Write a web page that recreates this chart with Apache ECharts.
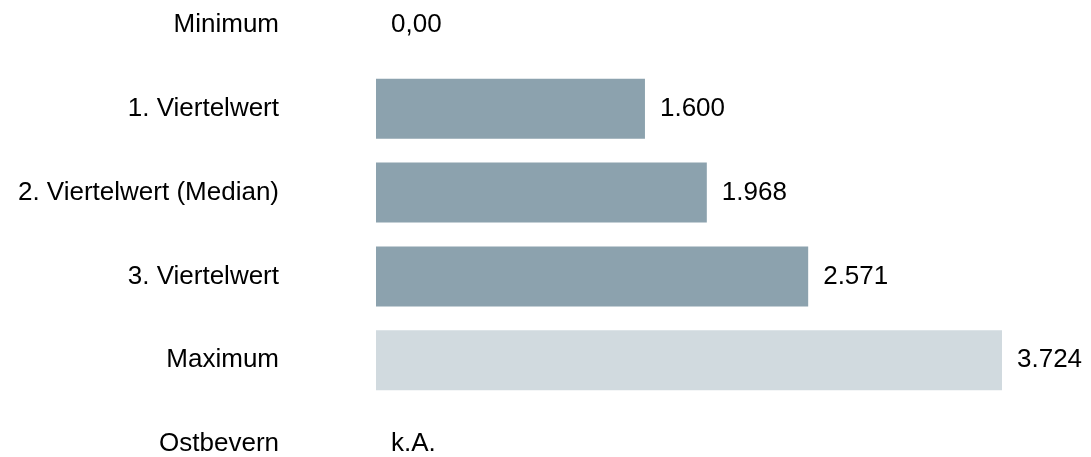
<!DOCTYPE html>
<html>
<head>
<meta charset="utf-8">
<script src="https://cdn.jsdelivr.net/npm/echarts@6/dist/echarts.min.js"></script>
<style>
  html, body { margin: 0; padding: 0; background: #fff; overflow: hidden; width: 1091px; height: 457px; position: relative; }
  /* the plot runs slightly past the top and bottom edge of the page */
  #chart { position: absolute; left: 0; top: -17px; width: 1091px; height: 503px; }
</style>
</head>
<body>
<div id="chart"></div>
<script>
// Kennwerte der Verteilung (Euro); null = keine Angabe
const categories = ['Minimum', '1. Viertelwert', '2. Viertelwert (Median)', '3. Viertelwert', 'Maximum', 'Ostbevern'];
const values = [0, 1600, 1968, 2571, 3724, null];
const highlight = ['Maximum'];

const barColor = '#8ca2ae';
const maxColor = '#d1dadf';
const font = 'Liberation Sans, Arial, sans-serif';

function fmt(v) {
  if (v === 0) return '0,00';
  return v.toLocaleString('de-DE', { maximumFractionDigits: 0 });
}

const seriesData = categories.map((c, i) => {
  const v = values[i];
  if (v == null) {
    return { value: 0, itemStyle: { color: 'rgba(0,0,0,0)' }, label: { formatter: 'k.A.' } };
  }
  return {
    value: v,
    itemStyle: { color: highlight.includes(c) ? maxColor : barColor }
  };
});

const chart = echarts.init(document.getElementById('chart'), null, { renderer: 'canvas' });
chart.setOption({
  animation: false,
  grid: { left: 376, width: 626, top: 0, bottom: 0, containLabel: false },
  xAxis: {
    type: 'value', min: 0, max: 3724,
    show: false
  },
  yAxis: {
    type: 'category',
    data: categories,
    inverse: true,
    axisLine: { show: false },
    axisTick: { show: false },
    splitLine: { show: false },
    axisLabel: {
      margin: 97,
      color: '#000',
      fontFamily: font,
      fontSize: 26
    }
  },
  series: [{
    type: 'bar',
    data: seriesData,
    barCategoryGap: '28.5%',
    label: {
      show: true,
      position: 'right',
      distance: 15,
      color: '#000',
      fontFamily: font,
      fontSize: 26,
      formatter: p => fmt(p.value)
    }
  }]
});
</script>
</body>
</html>
